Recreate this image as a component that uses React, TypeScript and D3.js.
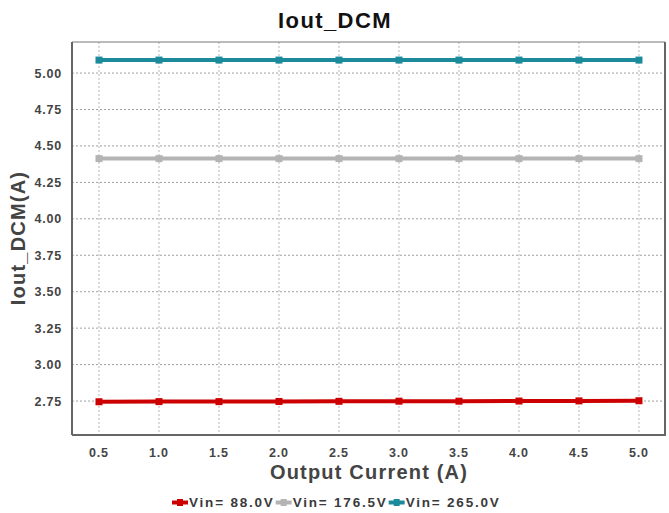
import React, { useRef, useEffect } from 'react';
import * as d3 from 'd3';

const currents = [0.5, 1.0, 1.5, 2.0, 2.5, 3.0, 3.5, 4.0, 4.5, 5.0];
const vin88 = [2.745, 2.746, 2.746, 2.747, 2.748, 2.749, 2.749, 2.750, 2.751, 2.752];
const vin1765 = [4.413, 4.413, 4.413, 4.413, 4.413, 4.413, 4.413, 4.413, 4.413, 4.413];
const vin265 = [5.089, 5.089, 5.089, 5.089, 5.089, 5.089, 5.089, 5.089, 5.089, 5.089];
const yTicks = [2.75, 3.0, 3.25, 3.5, 3.75, 4.0, 4.25, 4.5, 4.75, 5.0];

const series = [
  { name: 'Vin= 88.0V', values: vin88, color: '#cc0000' },
  { name: 'Vin= 176.5V', values: vin1765, color: '#b4b4b4' },
  { name: 'Vin= 265.0V', values: vin265, color: '#1b8a9b' },
];

const App = () => {
  const svgRef = useRef(null);

  useEffect(() => {
    const svg = d3.select(svgRef.current);
    svg.selectAll('*').remove();

    const W = 669, H = 513;
    const left = 72, top = 42, right = 665, bottom = 435;
    const font = '"Liberation Sans", Arial, sans-serif';

    const x = d3.scaleLinear().domain([0.275, 5.217]).range([left, right]);
    const y = d3.scaleLinear().domain([2.517, 5.213]).range([bottom, top]);

    svg.attr('width', W).attr('height', H);

    // grid
    svg.append('g').selectAll('line')
      .data(yTicks).enter().append('line')
      .attr('x1', left).attr('x2', right)
      .attr('y1', d => y(d)).attr('y2', d => y(d))
      .attr('stroke', '#a0a0a0').attr('stroke-width', 1).attr('stroke-dasharray', '2,2');
    svg.append('g').selectAll('line')
      .data(currents).enter().append('line')
      .attr('x1', d => x(d)).attr('x2', d => x(d))
      .attr('y1', top).attr('y2', bottom)
      .attr('stroke', '#b8b8b8').attr('stroke-width', 1).attr('stroke-dasharray', '2,2');

    // frame
    svg.append('line').attr('x1', left).attr('x2', right).attr('y1', top).attr('y2', top)
      .attr('stroke', '#777').attr('stroke-width', 1);
    svg.append('line').attr('x1', right).attr('x2', right).attr('y1', top).attr('y2', bottom)
      .attr('stroke', '#666').attr('stroke-width', 2);
    svg.append('line').attr('x1', left).attr('x2', left).attr('y1', top).attr('y2', bottom)
      .attr('stroke', '#666').attr('stroke-width', 2);
    svg.append('line').attr('x1', left).attr('x2', right + 1).attr('y1', bottom).attr('y2', bottom)
      .attr('stroke', '#666').attr('stroke-width', 2);

    // tick labels
    svg.append('g').selectAll('text')
      .data(yTicks).enter().append('text')
      .attr('x', 62).attr('y', d => y(d) + 4.5)
      .attr('text-anchor', 'end')
      .attr('font-family', font).attr('font-weight', 'bold').attr('font-size', 12.5)
      .attr('letter-spacing', 0.8).attr('fill', '#444')
      .text(d => d.toFixed(2));
    svg.append('g').selectAll('text')
      .data(currents).enter().append('text')
      .attr('x', d => x(d)).attr('y', 457)
      .attr('text-anchor', 'middle')
      .attr('font-family', font).attr('font-weight', 'bold').attr('font-size', 12.5)
      .attr('letter-spacing', 0.8).attr('fill', '#444')
      .text(d => d.toFixed(1));

    // lines + markers
    const line = d3.line<number>().x((d, i) => x(currents[i])).y(d => y(d));
    series.forEach(s => {
      svg.append('path').datum(s.values)
        .attr('d', line).attr('fill', 'none')
        .attr('stroke', s.color).attr('stroke-width', 4);
      svg.append('g').selectAll('rect')
        .data(s.values).enter().append('rect')
        .attr('x', (d, i) => x(currents[i]) - 3.5).attr('y', d => y(d) - 3.5)
        .attr('width', 7).attr('height', 7).attr('fill', s.color);
    });

    // titles
    svg.append('text').attr('x', 335).attr('y', 28).attr('text-anchor', 'middle')
      .attr('font-family', font).attr('font-weight', 'bold').attr('font-size', 22)
      .attr('letter-spacing', 1.4).attr('fill', '#111').text('Iout_DCM');
    svg.append('text').attr('x', 369).attr('y', 479).attr('text-anchor', 'middle')
      .attr('font-family', font).attr('font-weight', 'bold').attr('font-size', 20)
      .attr('letter-spacing', 1.2).attr('fill', '#444').text('Output Current (A)');
    svg.append('text').attr('transform', 'translate(25,238) rotate(-90)').attr('text-anchor', 'middle')
      .attr('font-family', font).attr('font-weight', 'bold').attr('font-size', 20)
      .attr('letter-spacing', 1.2).attr('fill', '#444').text('Iout_DCM(A)');

    // legend
    const legend = svg.append('g').attr('transform', 'translate(172,507)');
    let lx = 0;
    series.forEach(s => {
      const g = legend.append('g').attr('transform', `translate(${lx},0)`);
      g.append('line').attr('x1', 0).attr('x2', 16).attr('y1', -4.5).attr('y2', -4.5)
        .attr('stroke', s.color).attr('stroke-width', 4);
      g.append('rect').attr('x', 5).attr('y', -8).attr('width', 6).attr('height', 7).attr('fill', s.color);
      const t = g.append('text').attr('x', 17).attr('y', 0)
        .attr('font-family', font).attr('font-weight', 'bold').attr('font-size', 13.5)
        .attr('letter-spacing', 1.8).attr('fill', '#3a3a3a').text(s.name);
      const w = (t.node() as SVGTextElement).getComputedTextLength();
      lx += 17 + w + 1;
    });
  }, []);

  return <svg ref={svgRef} style={{ position: 'absolute', left: 0, top: 0 }}></svg>;
};

export default App;
